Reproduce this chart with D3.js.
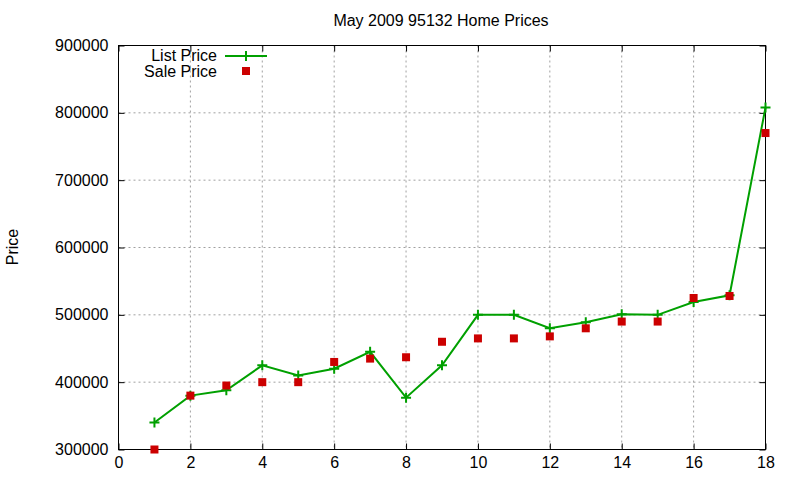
<!DOCTYPE html>
<html><head><meta charset="utf-8">
<script src="https://cdn.jsdelivr.net/npm/d3@7"></script>
<style>body{margin:0;background:#fff}svg{display:block}text{font-family:"Liberation Sans",Arial,sans-serif;font-size:16px;fill:#000}</style>
</head><body><svg id="c" width="800" height="480"></svg>
<script>
const title = "May 2009 95132 Home Prices";
const yLabel = "Price";
const seriesNames = ["List Price", "Sale Price"];
const xValues = [1,2,3,4,5,6,7,8,9,10,11,12,13,14,15,16,17,18];
const listPrice = [340000,380000,388000,425000,410000,420000,445000,377000,425000,500000,500000,480000,489000,501000,500000,519000,529000,808000];
const salePrice = [300000,380000,395000,400000,400000,430000,435000,437000,460000,465000,465000,468000,480000,490000,490000,525000,528000,770000];
const xTicks = [0,2,4,6,8,10,12,14,16,18];
const yTicks = [300000,400000,500000,600000,700000,800000,900000];

const svg = d3.select("#c");
const L = 118.5, R = 765.5, T = 45.5, B = 449.5;
const x = d3.scaleLinear().domain([0,18]).range([L,R]);
const y = d3.scaleLinear().domain([300000,900000]).range([B,T]);

// grid
const g = svg.append("g");
g.selectAll(".gx").data(xTicks.filter(d=>d>0&&d<18)).join("line")
  .attr("x1",d=>x(d)).attr("x2",d=>x(d)).attr("y1",T).attr("y2",B)
  .attr("stroke","#a0a0a0").attr("stroke-dasharray","2,3");
g.selectAll(".gy").data(yTicks.filter(d=>d>300000&&d<900000)).join("line")
  .attr("y1",d=>y(d)).attr("y2",d=>y(d)).attr("x1",L).attr("x2",R)
  .attr("stroke","#a0a0a0").attr("stroke-dasharray","2,3");

// axes (ticks inward, mirrored)
const ax = svg.append("g").attr("transform",`translate(0,${B})`)
  .call(d3.axisBottom(x).tickValues(xTicks).tickSize(-6).tickPadding(7).tickFormat(d3.format("d")));
const axT = svg.append("g").attr("transform",`translate(0,${T})`)
  .call(d3.axisTop(x).tickValues(xTicks).tickSize(-6).tickFormat(""));
const ay = svg.append("g").attr("transform",`translate(${L},0)`)
  .call(d3.axisLeft(y).tickValues(yTicks).tickSize(-6).tickPadding(10).tickFormat(d3.format("d")));
const ayR = svg.append("g").attr("transform",`translate(${R},0)`)
  .call(d3.axisRight(y).tickValues(yTicks).tickSize(-6).tickFormat(""));
[ax,axT,ay,ayR].forEach(a=>{a.select(".domain").remove();a.selectAll("line").attr("stroke","#000");a.selectAll("text").attr("font-family","Liberation Sans, Arial, sans-serif").attr("font-size",16).attr("fill","#000");});
ax.selectAll("text").attr("dy","0.71em");
svg.append("rect").attr("x",L).attr("y",T).attr("width",R-L).attr("height",B-T)
  .attr("fill","none").attr("stroke","#000");

// title & label
svg.append("text").attr("x",441).attr("y",26).attr("text-anchor","middle").text(title);
svg.append("text").attr("transform","translate(18,247) rotate(-90)").attr("text-anchor","middle").text(yLabel);

const green = "#00a000", red = "#cc0000";
const pts = xValues.map((d,i)=>({x:d,l:listPrice[i],s:salePrice[i]}));
svg.append("path").datum(pts)
  .attr("d",d3.line().x(d=>x(d.x)).y(d=>y(d.l)))
  .attr("fill","none").attr("stroke",green).attr("stroke-width",2);
const plus = (sel,cx,cy)=>sel.append("path").attr("d",`M${cx-5},${cy}H${cx+5}M${cx},${cy-5}V${cy+5}`).attr("stroke",green).attr("stroke-width",2);
pts.forEach(d=>plus(svg,x(d.x),y(d.l)));
svg.selectAll(".sq").data(pts).join("rect")
  .attr("x",d=>x(d.x)-4).attr("y",d=>y(d.s)-4).attr("width",8).attr("height",8).attr("fill",red);

// legend
svg.append("text").attr("x",217).attr("y",61).attr("text-anchor","end").text(seriesNames[0]);
svg.append("line").attr("x1",225).attr("x2",267).attr("y1",56).attr("y2",56).attr("stroke",green).attr("stroke-width",2);
plus(svg,246,56);
svg.append("text").attr("x",217).attr("y",77).attr("text-anchor","end").text(seriesNames[1]);
svg.append("rect").attr("x",242).attr("y",67).attr("width",8).attr("height",8).attr("fill",red);
</script></body></html>
